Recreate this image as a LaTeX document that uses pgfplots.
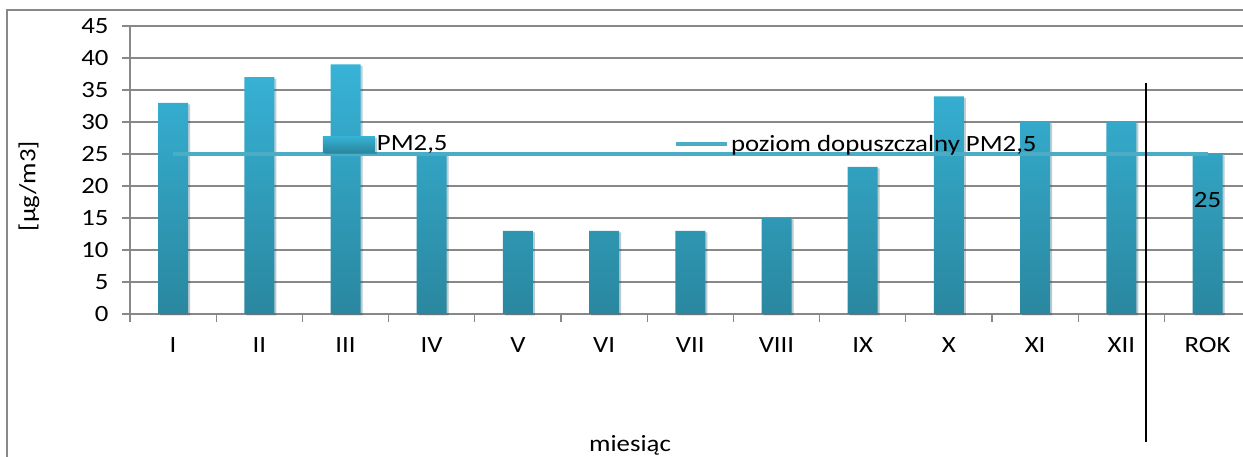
\documentclass[border=0pt]{standalone}
\usepackage{fontspec}
\setmainfont[FakeStretch=1.15]{Carlito}
\usepackage{pgfplots}
\pgfplotsset{compat=1.18}
\definecolor{barTop}{HTML}{37B3D7}
\definecolor{barBottom}{HTML}{2A879F}
\definecolor{limitLine}{HTML}{4BACC6}
\definecolor{gridGray}{HTML}{888888}
\begin{document}
\begin{tikzpicture}[x=1pt,y=1pt,font=\fontsize{23.3}{28}\selectfont]
\useasboundingbox (0,0) rectangle (1243,457);
\begin{axis}[
  at={(130pt,143pt)}, anchor=south west,
  scale only axis, width=1120.6pt, height=288pt,
  xmin=-0.5, xmax=12.5, ymin=0, ymax=45,
  axis x line*=bottom, axis y line*=left,
  axis line style={gridGray, line width=1.2pt},
  tick style={gridGray, line width=1.2pt},
  major tick length=8pt, tick align=outside,
  ytick={0,5,...,45},
  yticklabel style={xshift=-10pt},
  ymajorgrids, grid style={gridGray, line width=1.2pt},
  xtick={-0.5,0.5,...,12.5}, xticklabels={},
  extra x ticks={0,1,...,12},
  extra x tick labels={I,II,III,IV,V,VI,VII,VIII,IX,X,XI,XII,ROK},
  extra x tick style={major tick length=0pt, grid=none},
  xticklabel style={yshift=-20pt},
  /pgf/number format/assume math mode=true,
  clip=false,
  legend columns=2, legend cell align=left,
  legend style={at={(rel axis cs:0.172,0.59)}, anchor=west, draw=none, fill=none,
    inner sep=0pt, /tikz/every even column/.append style={column sep=224pt}},
]
% monthly and annual means, each bar with a soft drop shadow
\addplot[ybar, bar width=30pt, draw=none, top color=barTop, bottom color=barBottom,
  preaction={fill=black, fill opacity=0.16, transform canvas={xshift=2pt,yshift=-1.5pt}},
  legend image code/.code={\fill[top color=barTop,bottom color=barBottom] (0pt,-8pt) rectangle (52pt,8pt);}]
  coordinates {(0,33) (1,37) (2,39) (3,25) (4,13) (5,13) (6,13) (7,15) (8,23) (9,34) (10,30) (11,30) (12,25)};
\addlegendentry{PM2,5}
% permissible level
\addplot[limitLine, line width=4.5pt, mark=none,
  legend image code/.code={\draw[limitLine, line width=4.5pt] (0pt,0pt) -- (51pt,0pt);}]
  coordinates {(0,25) (12,25)};
\addlegendentry{poziom dopuszczalny PM2,5}
\node at (axis cs:12,17.8) {25};
\end{axis}
\node[rotate=90] at (29,271) {[µg/m3]};
\node at (630,12) {miesiąc};
\draw[gridGray, line width=2pt] (7,-10) -- (7,447) -- (1260,447);
\draw[black, line width=1.5pt] (1146,15) -- (1146,374);
\end{tikzpicture}
\end{document}
